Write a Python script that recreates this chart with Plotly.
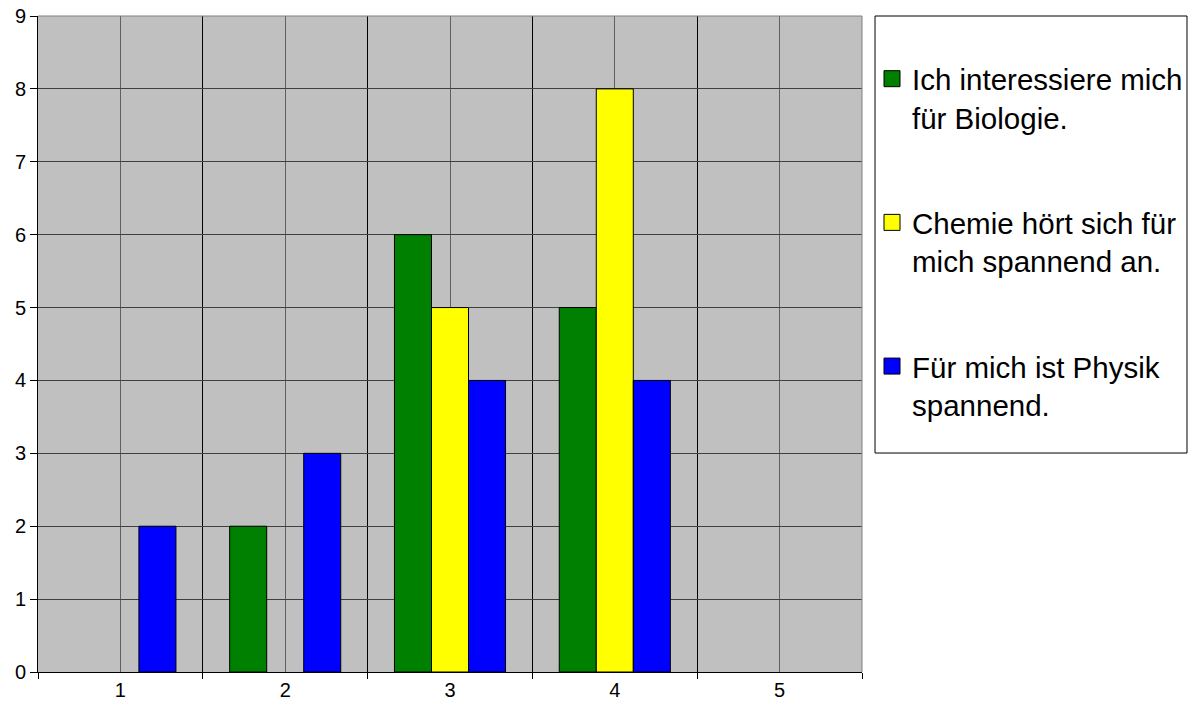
import plotly.graph_objects as go

# Survey categories (answer scale) and counts per statement
categories = [1, 2, 3, 4, 5]
biologie = [0, 2, 6, 5, 0]
chemie = [0, 0, 5, 8, 0]
physik = [2, 3, 4, 4, 0]

series_names = [
    "Ich interessiere mich<br>für Biologie.",
    "Chemie hört sich für<br>mich spannend an.",
    "Für mich ist Physik<br>spannend.",
]
series_colors = ["#008000", "#FFFF00", "#0000FF"]
y_ticks = list(range(0, 10))

FONT = "Arial, Liberation Sans, sans-serif"

fig = go.Figure()
for name, vals, col in zip(series_names, [biologie, chemie, physik], series_colors):
    # empty counts draw no bar at all
    fig.add_trace(go.Bar(
        x=categories, y=[v if v else None for v in vals], name=name, showlegend=False,
        marker=dict(color=col, line=dict(color="black", width=1)),
    ))
# legend entries with larger square swatches
for i, (name, col) in enumerate(zip(series_names, series_colors)):
    fig.add_trace(go.Scatter(
        x=[None], y=[None], mode="markers", name=name, legendgroup=f"g{i}",
        marker=dict(symbol="square", size=16, color=col, line=dict(color="black", width=1)),
    ))

fig.update_layout(
    width=1193, height=713, autosize=False,
    margin=dict(l=38, r=331, t=16, b=41),
    paper_bgcolor="white", plot_bgcolor="#C0C0C0",
    barmode="group", bargap=0.326, bargroupgap=0,
    font=dict(family=FONT, color="black"),
    legend=dict(
        xref="container", yref="container",
        x=872 / 1193, xanchor="left", y=1 - 53 / 713, yanchor="top",
        font=dict(family=FONT, size=29.5, color="black"),
        bgcolor="rgba(0,0,0,0)", borderwidth=0,
        tracegroupgap=64, itemwidth=30, valign="top", maxheight=600,
    ),
    xaxis=dict(
        range=[0.5, 5.5], tickvals=categories, ticktext=[str(c) for c in categories],
        ticks="", showgrid=True, gridcolor="#606060", gridwidth=1,
        showline=True, linecolor="black", linewidth=1, mirror=False,
        tickfont=dict(size=20), zeroline=False, automargin=False,
        minor=dict(tick0=0.5, dtick=1, ticks="outside", ticklen=6, tickcolor="black",
                   showgrid=True, gridcolor="black", gridwidth=1),
    ),
    yaxis=dict(
        range=[0, 9], tickvals=y_ticks, ticks="outside", ticklen=7, tickcolor="black",
        showgrid=True, gridcolor="#404040", gridwidth=1,
        showline=True, linecolor="black", linewidth=1,
        tickfont=dict(size=20), zeroline=False, automargin=False,
    ),
    shapes=[
        # gray frame on top and right of plot area
        dict(type="line", xref="paper", yref="paper", x0=0, x1=1, y0=1, y1=1,
             line=dict(color="#808080", width=1)),
        dict(type="line", xref="paper", yref="paper", x0=1, x1=1, y0=0, y1=1,
             line=dict(color="#808080", width=1)),
        # legend frame
        dict(type="rect", xref="paper", yref="paper", x0=1.0158, x1=1.3944,
             y0=0.3338, y1=1.0, line=dict(color="black", width=1), layer="above"),
    ],
)

fig.write_html("out.html")
